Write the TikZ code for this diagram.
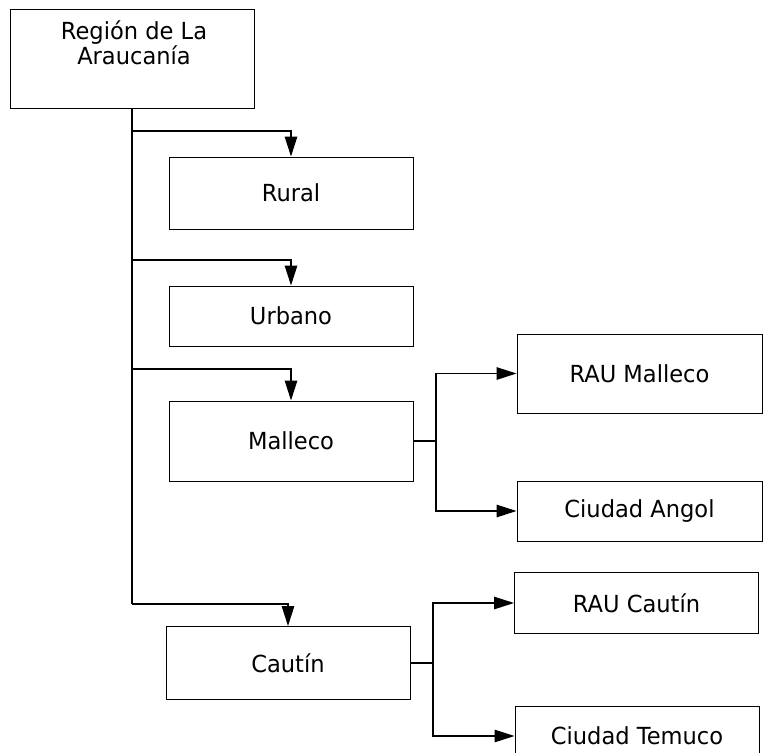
\documentclass[tikz,border=0pt]{standalone}
\usepackage{fontspec}
\setmainfont{DejaVu Sans}[FakeStretch=0.96]
\usetikzlibrary{arrows.meta}
\tikzset{
  boxfont/.style={font=\fontsize{23.5}{23}\selectfont},
  box/.style={draw=black, line width=1pt, minimum width=244pt, inner sep=0pt, boxfont},
  conn/.style={draw=black, line width=1.4pt},
  arr/.style={conn, -{Triangle[length=20pt,width=12.5pt]}},
}
\begin{document}
\begin{tikzpicture}[x=1pt,y=-1pt]
\useasboundingbox (0,0) rectangle (768,752);
\begin{scope}
\clip (0,0) rectangle (768,752);
\node[box, minimum height=98pt] (root) at (132,59) {};
\node[anchor=north, align=center, inner sep=0pt, boxfont] (roottext) at (134,21) {Región de La\\Araucanía};
\node[box, minimum height=72pt] (rural) at (291,193) {Rural};
\node[box, minimum height=60pt] (urbano) at (291,316) {Urbano};
\node[box, minimum height=80pt] (malleco) at (291,441) {Malleco};
\node[box, minimum height=73pt] (cautin) at (288,663) {Cautín};
\node[box, minimum width=245pt, minimum height=79pt] (raum) at (639.5,373.5) {RAU Malleco};
\node[box, minimum width=245pt, minimum height=60pt] (angol) at (639.5,511) {Ciudad Angol};
\node[box, minimum height=61pt] (rauc) at (636.5,603) {RAU Cautín};
\node[box, minimum height=60pt] (temuco) at (637,736) {Ciudad Temuco};

\coordinate (tb) at (132,604);
\draw[conn, line width=1.8pt] (root.south) -- (tb);
\draw[arr] (132,131) -| (rural.north);
\draw[arr] (132,260) -| (urbano.north);
\draw[arr] (132,369) -| (malleco.north);
\draw[arr] (tb) -| (cautin.north);

\coordinate (mj) at (436,441);
\draw[conn] (malleco.east) -- (mj);
\draw[arr] (mj) |- (raum.west);
\draw[arr] (mj) |- (angol.west);

\coordinate (cj) at (433,663);
\draw[conn, line width=2pt] (cautin.east) -- (cj);
\draw[arr] (cj) |- (rauc.west);
\draw[arr] (cj) |- (temuco.west);
\end{scope}
\end{tikzpicture}
\end{document}
